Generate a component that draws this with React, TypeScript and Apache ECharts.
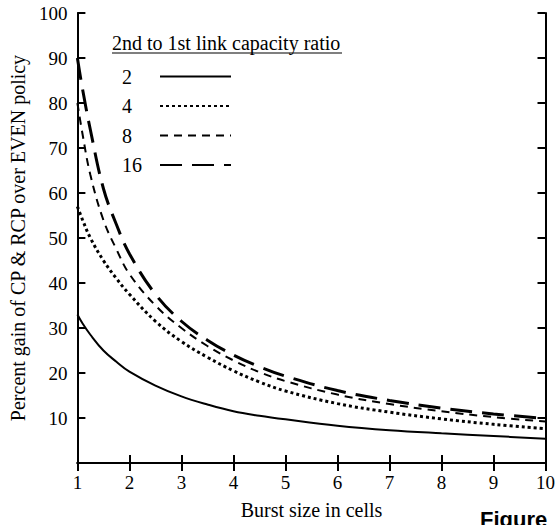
import React, { useEffect, useRef } from "react";
import * as echarts from "echarts";

// Burst size (cells) sampled along the x axis
const burstSizes = [1, 1.1, 1.25, 1.5, 1.75, 2, 2.5, 3, 3.5, 4, 4.5, 5, 6, 7, 8, 9, 10];
// Percent gain for each 2nd-to-1st link capacity ratio
const gainRatio2 = [33, 31, 28.5, 25, 22.5, 20.3, 17.2, 14.8, 13, 11.5, 10.5, 9.7, 8.3, 7.3, 6.6, 6, 5.4];
const gainRatio4 = [57, 54, 50, 45, 41, 37.5, 31.5, 27, 23.5, 20.5, 18, 16, 13.2, 11.3, 9.8, 8.6, 7.6];
const gainRatio8 = [80, 73, 64, 54, 47.5, 42, 35, 30, 26, 22.8, 20.2, 18.2, 15.2, 13.1, 11.5, 10.2, 9.2];
const gainRatio16 = [90, 83, 74, 61, 53, 46.5, 37.5, 31.5, 27.3, 24, 21.4, 19.3, 16.1, 13.9, 12.2, 10.9, 9.9];

const seriesNames = ["2", "4", "8", "16"];
const legendTitle = "2nd to 1st link capacity ratio";
const xTitle = "Burst size in cells";
const yTitle = "Percent gain of CP & RCP over EVEN policy";
const captionText = "Figure";

export default function App() {
  const ref = useRef<HTMLDivElement>(null);
  useEffect(() => {
    if (!ref.current) return;
    const chart = echarts.init(ref.current, null, { renderer: "svg" });
    const serif = "Liberation Serif";
    const axisLine = { show: true, lineStyle: { color: "#000", width: 2 } };
    const axisTick = { show: true, inside: true, length: 8, lineStyle: { color: "#000", width: 2 } };
    const mk = (name: string, vals: number[], type: any, width: number) => ({
      name,
      type: "line",
      data: burstSizes.map((x, i) => [x, vals[i]]),
      smooth: 0.4,
      symbol: "none",
      showSymbol: false,
      lineStyle: { color: "#000", width, type },
      itemStyle: { color: "#000" },
      xAxisIndex: 0,
      yAxisIndex: 0,
    });
    chart.setOption({
      animation: false,
      backgroundColor: "#fff",
      grid: { left: 77, right: 5, top: 13, bottom: 60, containLabel: false },
      xAxis: [
        {
          type: "value", position: "bottom", min: 1, max: 10, interval: 1,
          axisLine, axisTick, splitLine: { show: false },
          axisLabel: { color: "#000", fontFamily: serif, fontSize: 19, margin: 10 },
          name: xTitle, nameLocation: "middle", nameGap: 37,
          nameTextStyle: { color: "#000", fontFamily: serif, fontSize: 20 },
        },
        {
          type: "value", position: "top", min: 1, max: 10, interval: 1,
          axisLine, axisTick, splitLine: { show: false }, axisLabel: { show: false },
        },
      ],
      yAxis: [
        {
          type: "value", position: "left", min: 0, max: 100, interval: 10,
          axisLine, axisTick, splitLine: { show: false },
          axisLabel: {
            color: "#000", fontFamily: serif, fontSize: 19, margin: 10,
            formatter: (v: number) => (v === 0 ? "" : String(v)),
          },
          name: yTitle, nameLocation: "middle", nameGap: 48,
          nameTextStyle: { color: "#000", fontFamily: serif, fontSize: 20 },
        },
        {
          type: "value", position: "right", min: 0, max: 100, interval: 10,
          axisLine, axisTick, splitLine: { show: false }, axisLabel: { show: false },
        },
      ],
      legend: {
        data: seriesNames,
        orient: "vertical",
        left: 117,
        top: 61.5,
        align: "right",
        itemWidth: 71,
        itemHeight: 20,
        itemGap: 9.5,
        inactiveColor: "#000",
        itemStyle: { color: "transparent", borderWidth: 0, opacity: 0 },
        formatter: (n: string) => "{a|" + n + "}",
        textStyle: {
          color: "#000", fontFamily: serif, fontSize: 20,
          rich: { a: { width: 33, align: "left", fontFamily: serif, fontSize: 20, color: "#000", lineHeight: 20 } },
        },
      },
      graphic: [
        {
          type: "text", left: 112, top: 33,
          style: { text: legendTitle, font: "20px Liberation Serif", fill: "#000" },
        },
        {
          type: "line", shape: { x1: 112, y1: 53, x2: 342, y2: 53 },
          style: { stroke: "#000", lineWidth: 1.2 },
        },
        {
          type: "text", left: 480, top: 508,
          style: { text: captionText, font: "bold 22px Liberation Sans", fill: "#000" },
        },
      ],
      series: [
        mk(seriesNames[0], gainRatio2, "solid", 2),
        mk(seriesNames[1], gainRatio4, [3, 3], 3),
        mk(seriesNames[2], gainRatio8, [8, 6], 2),
        mk(seriesNames[3], gainRatio16, [22, 10], 3),
      ],
    });
    return () => chart.dispose();
  }, []);
  return <div ref={ref} style={{ position: "absolute", left: 0, top: 0, width: 558, height: 525 }} />;
}
